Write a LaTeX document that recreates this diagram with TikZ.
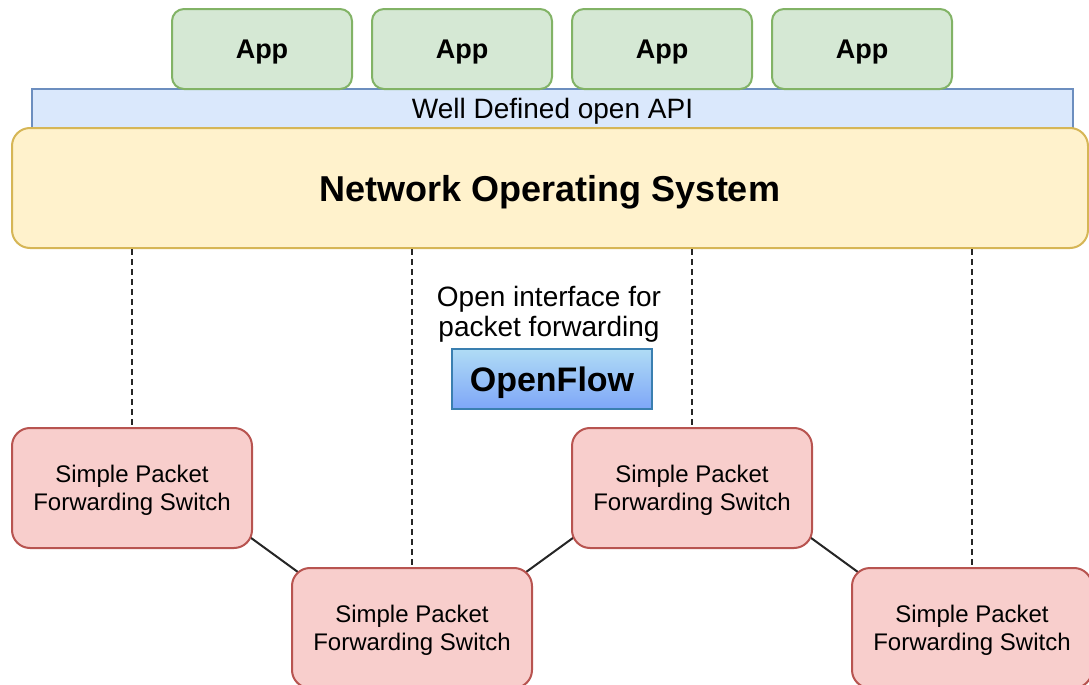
\documentclass[tikz,border=0pt]{standalone}
\usepackage{fontspec}
\setmainfont{Liberation Sans}
\usetikzlibrary{positioning,shadings,backgrounds}
\definecolor{appfill}{HTML}{D5E8D4}
\definecolor{appline}{HTML}{82B366}
\definecolor{apifill}{HTML}{DAE8FC}
\definecolor{apiline}{HTML}{6C8EBF}
\definecolor{nosfill}{HTML}{FFF2CC}
\definecolor{nosline}{HTML}{D6B656}
\definecolor{swfill}{HTML}{F8CECC}
\definecolor{swline}{HTML}{B85450}
\definecolor{oftop}{HTML}{B0DCF5}
\definecolor{ofbot}{HTML}{7EA6F8}
\definecolor{ofline}{HTML}{3A7FB0}

\begin{document}
\begin{tikzpicture}[x=0.5pt, y=-0.5pt,
    app/.style={draw=appline, fill=appfill, line width=1pt, rounded corners=6pt,
      minimum width=90pt, minimum height=40pt, inner sep=0pt, text depth=0pt,
      font=\fontsize{13.5}{16}\selectfont\bfseries},
    switchbox/.style={draw=swline, fill=swfill, line width=1pt, rounded corners=9pt,
      minimum width=120pt, minimum height=60pt, inner sep=0pt, align=center,
      text depth=0pt, font=\fontsize{12}{14}\selectfont},
    link/.style={line width=1pt, black!85, shorten <=-10pt, shorten >=-10pt},
    ctrl/.style={line width=0.9pt, dash pattern=on 3pt off 2pt, black!85}]
  \useasboundingbox (0,0) rectangle (1089,685);
  \clip (0,0) rectangle (1089,685);
  % API and NOS layers
  \node[draw=apiline, fill=apifill, line width=1pt, minimum width=520.5pt,
    minimum height=19.5pt, inner sep=0pt, text depth=0pt,
    font=\fontsize{14}{16}\selectfont]
    (api) at (552.5,108.5) {Well Defined open API};
  \node[draw=nosline, fill=nosfill, line width=1pt, rounded corners=9pt,
    minimum width=538pt, minimum height=60pt, inner sep=0pt, text depth=0pt,
    font=\fontsize{18}{21}\selectfont\bfseries]
    (nos) at (550,188) {Network Operating System};
  % Apps
  \foreach \i/\x in {1/262,2/462,3/662,4/862}
    \node[app] (app\i) at (\x,49) {App};
  % OpenFlow
  \node[align=center, font=\fontsize{14}{15}\selectfont] (ofl) at (549,314)
    {Open interface for\\packet forwarding};
  \node[draw=ofline, top color=oftop, bottom color=ofbot, line width=0.8pt,
    minimum width=100pt, minimum height=30pt, inner sep=0pt, text depth=0pt,
    font=\fontsize{17}{20}\selectfont\bfseries] (of) at (552,379) {OpenFlow};
  % Switches
  \node[switchbox] (sw1) at (132,488) {Simple Packet\\Forwarding Switch};
  \node[switchbox] (sw2) at (412,628) {Simple Packet\\Forwarding Switch};
  \node[switchbox] (sw3) at (692,488) {Simple Packet\\Forwarding Switch};
  \node[switchbox] (sw4) at (972,628) {Simple Packet\\Forwarding Switch};
  \foreach \i in {1,...,4}
    \draw[ctrl] (nos.south -| sw\i) -- (sw\i.north);
  \begin{scope}[on background layer]
    \draw[link] (sw1.-23) -- (sw2.north west);
    \draw[link] (sw2.north east) -- (sw3.203);
    \draw[link] (sw3.-23) -- (sw4.north west);
  \end{scope}
\end{tikzpicture}
\end{document}
